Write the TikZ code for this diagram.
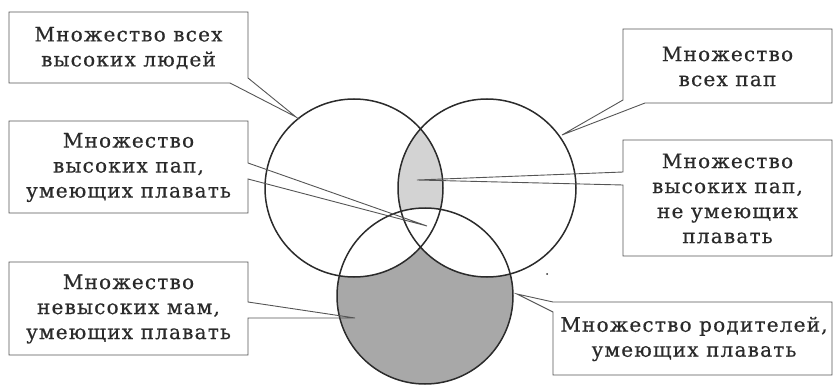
\documentclass[tikz,border=0pt]{standalone}
\usepackage{fontspec}
\setmainfont[LetterSpace=6,FakeBold=0.6]{DejaVu Serif}
\definecolor{ink}{HTML}{2B2B2B}
\definecolor{boxline}{HTML}{555555}
\definecolor{txt}{HTML}{2A2A2A}
\definecolor{darkfill}{HTML}{A8A8A8}
\definecolor{lightfill}{HTML}{D3D3D3}
\begin{document}
\begin{tikzpicture}[x=1pt,y=-1pt,
  circ/.style={draw=ink,line width=1.5pt},
  callout/.style={draw=boxline,line width=0.9pt,line join=miter},
  label/.style={text=txt,align=center,inner sep=0pt,font=\fontsize{20}{25}\selectfont}]
\useasboundingbox (0,0) rectangle (833,385);
% circle centres
\coordinate (A) at (354,188);
\coordinate (B) at (487,188);
\coordinate (C) at (425,296);
% fills
\fill[darkfill] (C) circle (88);
\fill[white] (A) circle (89);
\fill[white] (B) circle (89);
\begin{scope}
  \clip (A) circle (89);
  \fill[lightfill] (B) circle (89);
\end{scope}
\begin{scope}
  \clip (A) circle (89);
  \clip (B) circle (89);
  \fill[white] (C) circle (88);
\end{scope}
\draw[circ] (A) circle (89);
\draw[circ] (B) circle (89);
\draw[circ] (C) circle (88);
% pointer tips
\coordinate (p1) at (296,117);
\coordinate (p2) at (427,226);
\coordinate (p3) at (355,318);
\coordinate (p4) at (562,135);
\coordinate (p5) at (417,180);
\coordinate (p6) at (517,294);
% callout outlines
\draw[callout] (9,12) -- (248,12) -- (248,78) -- (p1) -- (230,83) -- (9,83) -- cycle;
\draw[callout] (9,121) -- (248,121) -- (248,163) -- (p2) -- (248,179) -- (248,213) -- (9,213) -- cycle;
\draw[callout] (9,262) -- (248,262) -- (248,302) -- (p3) -- (248,318) -- (248,355) -- (9,355) -- cycle;
\draw[callout] (623,29) -- (832,29) -- (832,103) -- (645,103) -- (p4) -- (623,100) -- cycle;
\draw[callout] (623,140) -- (832,140) -- (832,256) -- (623,256) -- (623,185) -- (p5) -- (623,172) -- cycle;
\draw[callout] (553,302) -- (832,302) -- (832,375) -- (553,375) -- (553,312) -- (p6) -- cycle;
% texts
\node[label] (t1) at (128.5,48) {Множество всех\\высоких людей};
\node[label] (t2) at (128.5,167.5) {Множество\\высоких пап,\\умеющих плавать};
\node[label] (t3) at (128.5,309) {Множество\\невысоких мам,\\умеющих плавать};
\node[label] (t4) at (727.5,66.5) {Множество\\всех пап};
\node[label] (t5) at (727.5,198.5) {Множество\\высоких пап,\\не умеющих\\плавать};
\node[label] (t6) at (694,339) {Множество родителей,\\умеющих плавать};
% stray dot
\fill[ink] (547,274) circle (1);
\end{tikzpicture}
\end{document}
